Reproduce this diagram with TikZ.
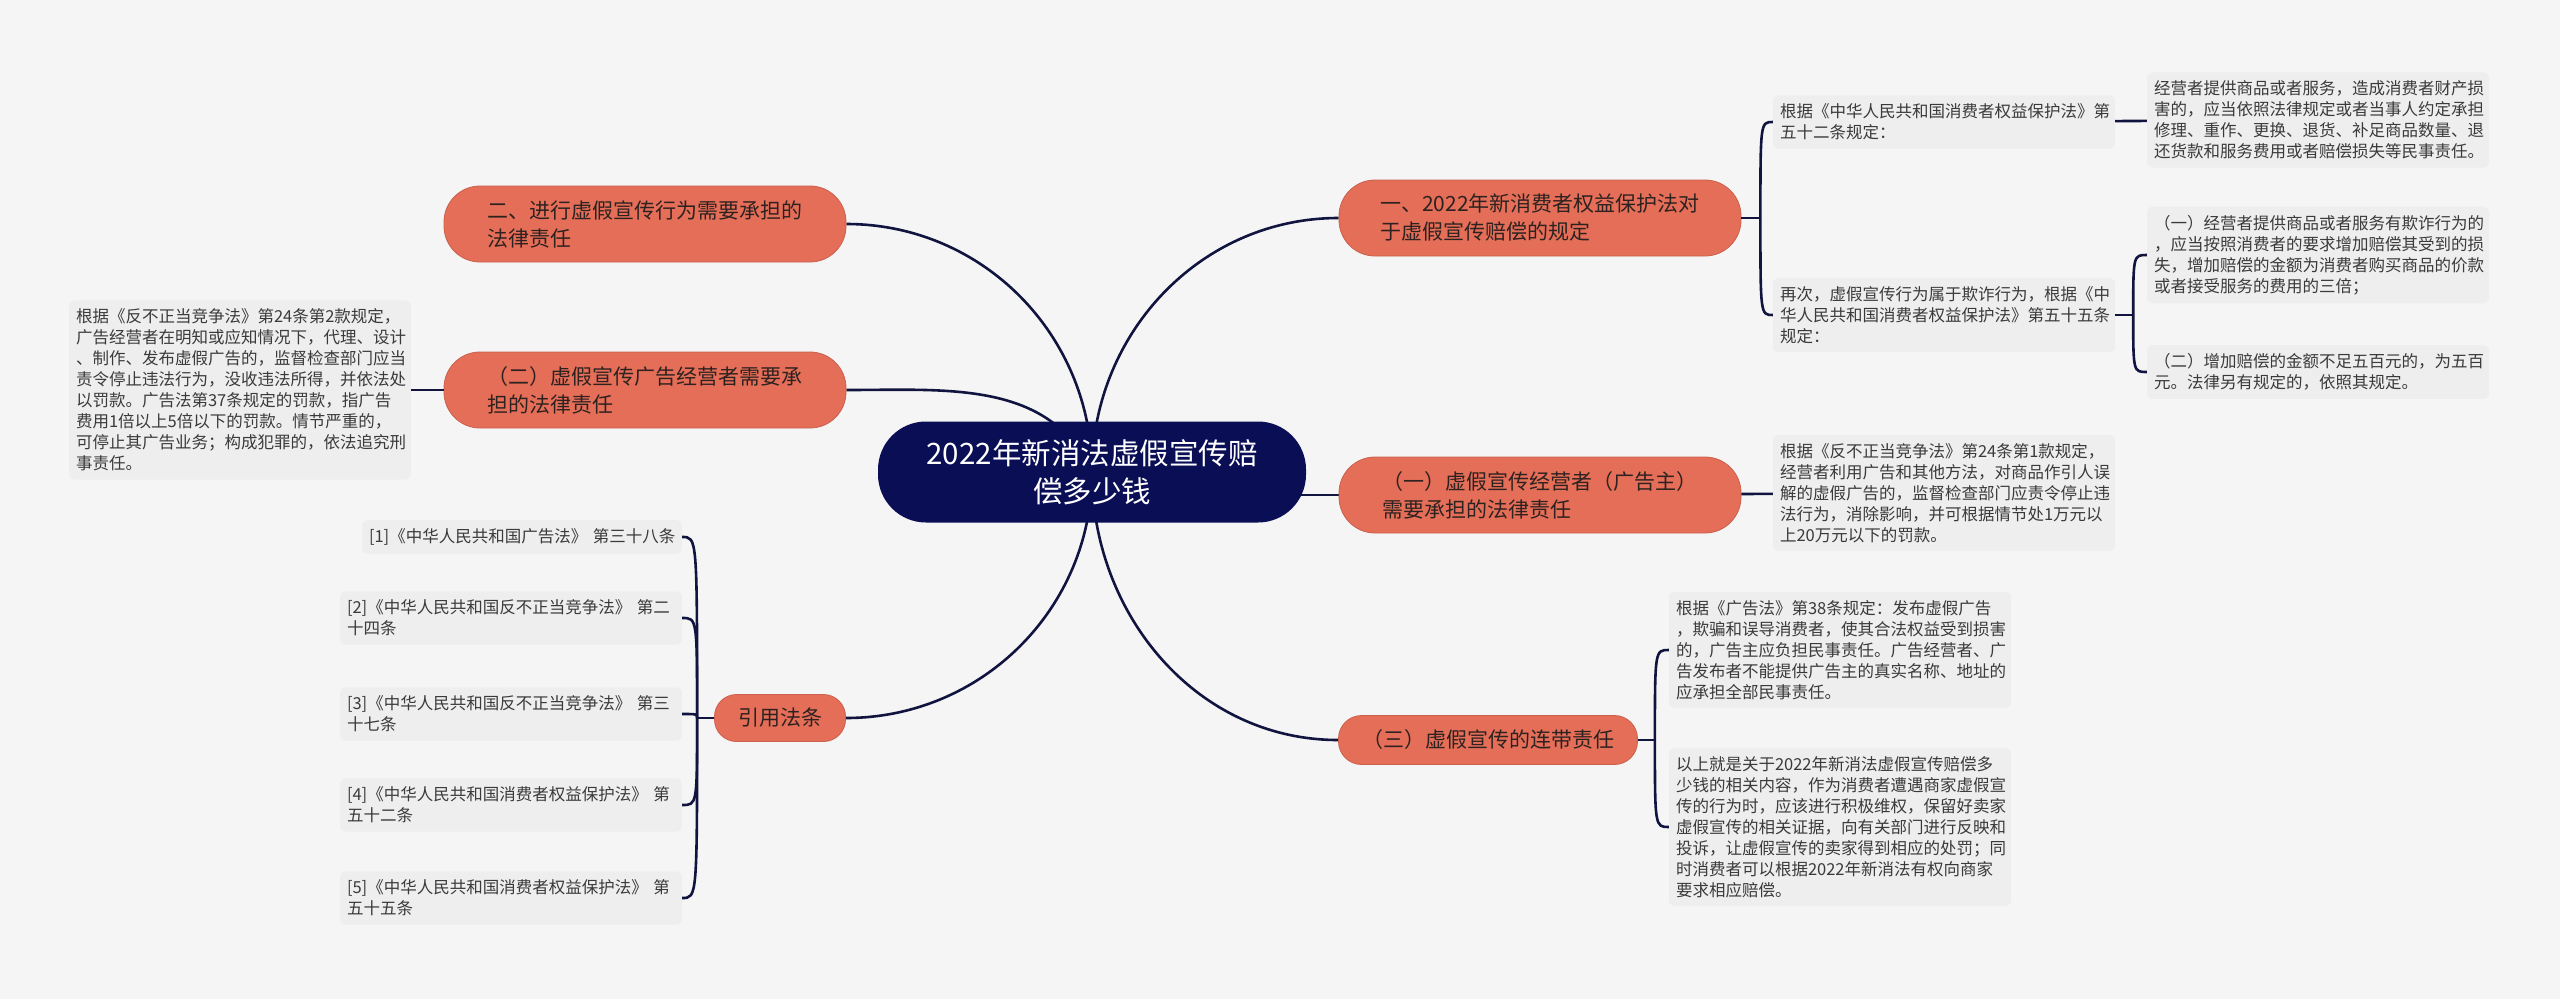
\documentclass[tikz,border=0pt]{standalone}
\usepackage{fontspec}
\setmainfont{Noto Sans CJK SC}
\usepackage{xcolor}
\usetikzlibrary{backgrounds}

\definecolor{pagebg}{HTML}{F5F5F5}
\definecolor{notebg}{HTML}{EEEEEE}
\definecolor{navy}{HTML}{0A0E55}
\definecolor{linecol}{HTML}{11143F}
\definecolor{coral}{HTML}{E46E58}
\definecolor{branchtext}{HTML}{2E2220}
\definecolor{notetext}{HTML}{3A3A3A}

\begin{document}
\begin{tikzpicture}[
    x=1pt, y=1pt,
    topic/.style={rectangle, rounded corners=48pt, fill=navy, text=white, align=center, minimum width=428pt, minimum height=101pt, font=\fontsize{29.5}{38}\selectfont},
    branch/.style={rectangle, rounded corners=36pt, fill=coral, draw=coral!88!black, line width=0.8pt, text=branchtext, align=left, minimum width=402pt, minimum height=76pt, font=\fontsize{21}{28}\selectfont},
    note/.style={rectangle, rounded corners=6pt, fill=notebg, text=notetext, align=left, text width=328pt, inner xsep=7pt, inner ysep=8.5pt, font=\fontsize{16.5}{21}\selectfont},
    link/.style={draw=linecol, line width=2.6pt}
]
\useasboundingbox (0,0) rectangle (2560,-999);

% centre and main branches
\node[topic] (root) at (1092,-472) {2022年新消法虚假宣传赔\\偿多少钱};

\node[branch] (b1) at (1540,-218) {一、2022年新消费者权益保护法对\\于虚假宣传赔偿的规定};
\node[branch] (b2) at (1540,-495) {（一）虚假宣传经营者（广告主）\\需要承担的法律责任};
\node[branch, minimum width=299pt, minimum height=49pt, rounded corners=23pt] (b3) at (1488,-740) {（三）虚假宣传的连带责任};
\node[branch] (b4) at (645,-224) {二、进行虚假宣传行为需要承担的\\法律责任};
\node[branch] (b5) at (645,-390) {（二）虚假宣传广告经营者需要承\\担的法律责任};
\node[branch, minimum width=131pt, minimum height=47pt, rounded corners=22pt, align=center] (b6) at (780,-718) {引用法条};

% notes on the right
\node[note] (l1) at (1944,-122) {根据《中华人民共和国消费者权益保护法》第\\五十二条规定：};
\node[note] (l2) at (1944,-315) {再次，虚假宣传行为属于欺诈行为，根据《中\\华人民共和国消费者权益保护法》第五十五条\\规定：};
\node[note] (l3) at (1944,-493) {根据《反不正当竞争法》第24条第1款规定，\\经营者利用广告和其他方法，对商品作引人误\\解的虚假广告的，监督检查部门应责令停止违\\法行为，消除影响，并可根据情节处1万元以\\上20万元以下的罚款。};

\node[note] (r1) at (2318,-120) {经营者提供商品或者服务，造成消费者财产损\\害的，应当依照法律规定或者当事人约定承担\\修理、重作、更换、退货、补足商品数量、退\\还货款和服务费用或者赔偿损失等民事责任。};
\node[note] (r2) at (2318,-255) {（一）经营者提供商品或者服务有欺诈行为的\\，应当按照消费者的要求增加赔偿其受到的损\\失，增加赔偿的金额为消费者购买商品的价款\\或者接受服务的费用的三倍；};
\node[note] (r3) at (2318,-372) {（二）增加赔偿的金额不足五百元的，为五百\\元。法律另有规定的，依照其规定。};

\node[note] (m1) at (1840,-650) {根据《广告法》第38条规定：发布虚假广告\\，欺骗和误导消费者，使其合法权益受到损害\\的，广告主应负担民事责任。广告经营者、广\\告发布者不能提供广告主的真实名称、地址的\\应承担全部民事责任。};
\node[note] (m2) at (1840,-827) {以上就是关于2022年新消法虚假宣传赔偿多\\少钱的相关内容，作为消费者遭遇商家虚假宣\\传的行为时，应该进行积极维权，保留好卖家\\虚假宣传的相关证据，向有关部门进行反映和\\投诉，让虚假宣传的卖家得到相应的处罚；同\\时消费者可以根据2022年新消法有权向商家\\要求相应赔偿。};

% notes on the left
\node[note] (lf) at (240,-390) {根据《反不正当竞争法》第24条第2款规定，\\广告经营者在明知或应知情况下，代理、设计\\、制作、发布虚假广告的，监督检查部门应当\\责令停止违法行为，没收违法所得，并依法处\\以罚款。广告法第37条规定的罚款，指广告\\费用1倍以上5倍以下的罚款。情节严重的，\\可停止其广告业务；构成犯罪的，依法追究刑\\事责任。};

\node[note, text width=306pt] (c1) at (522,-537) {[1]《中华人民共和国广告法》~第三十八条};
\node[note] (c2) at (511,-618) {[2]《中华人民共和国反不正当竞争法》~第二\\十四条};
\node[note] (c3) at (511,-714) {[3]《中华人民共和国反不正当竞争法》~第三\\十七条};
\node[note] (c4) at (511,-805) {[4]《中华人民共和国消费者权益保护法》~第\\五十二条};
\node[note] (c5) at (511,-898) {[5]《中华人民共和国消费者权益保护法》~第\\五十五条};

\begin{pgfonlayer}{background}
\fill[pagebg] (0,0) rectangle (2560,-999);
\draw[link] (root.center) to[out=90,in=180] (b1.west);
\draw[link] (b2.west) -- (b2.west -| root.center);
\draw[link] (root.center) to[out=-90,in=180] (b3.west);
\draw[link] (root.center) to[out=90,in=0] (b4.east);
\draw[link] (root.center) to[out=115,in=0] (b5.east);
\draw[link] (root.center) to[out=-90,in=0] (b6.east);
\end{pgfonlayer}

% brackets to the notes
\draw[link] (b1.east) -- ++(19,0) coordinate (j1);
\foreach \n in {l1,l2}
    \draw[link] (j1) .. controls (j1 |- \n.west) and (j1 |- \n.west) .. (\n.west);
\draw[link] (l2.east) -- ++(18,0) coordinate (j2);
\foreach \n in {r2,r3}
    \draw[link] (j2) .. controls (j2 |- \n.west) and (j2 |- \n.west) .. (\n.west);
\draw[link] (b3.east) -- ++(17,0) coordinate (j3);
\foreach \n in {m1,m2}
    \draw[link] (j3) .. controls (j3 |- \n.west) and (j3 |- \n.west) .. (\n.west);
\draw[link] (b6.west) -- ++(-17,0) coordinate (j6);
\foreach \n in {c1,c2,c3,c4,c5}
    \draw[link] (j6) .. controls (j6 |- \n.east) and (j6 |- \n.east) .. (\n.east);

\draw[link] (l1) -- (r1);
\draw[link] (b2) -- (l3);
\draw[link] (b5) -- (lf);

\end{tikzpicture}
\end{document}
